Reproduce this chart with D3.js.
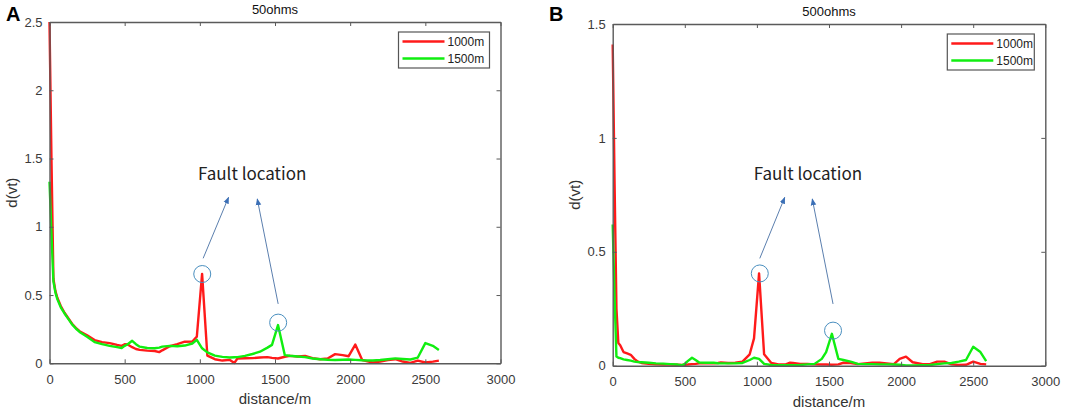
<!DOCTYPE html>
<html>
<head>
<meta charset="utf-8">
<script src="https://cdn.jsdelivr.net/npm/d3@7"></script>
<style>
  html, body { margin: 0; padding: 0; background: #fff; }
  svg { display: block; }
  text { font-family: "Liberation Sans", Arial, sans-serif; }
</style>
</head>
<body>
<svg id="chart" width="1065" height="411"></svg>
<script>
// ---------------- DATA ----------------
const distance = [0, 13, 26, 39, 52, 75, 100, 125, 150, 175, 200, 250, 300, 350, 400, 450, 480, 500, 520, 550,
  575, 600, 650, 700, 730, 750, 800, 850, 900, 950, 980, 1015, 1050, 1100, 1150, 1200, 1230, 1250, 1300, 1350,
  1400, 1450, 1480, 1520, 1565, 1600, 1650, 1700, 1750, 1800, 1850, 1900, 1950, 1990, 2034, 2080, 2150, 2200,
  2250, 2300, 2350, 2400, 2450, 2500, 2550, 2590];

// Panel A (50 ohms)
const redA = [2.5, 1.5, 0.62, 0.53, 0.48, 0.42, 0.37, 0.33, 0.29, 0.26, 0.235, 0.205, 0.17, 0.155, 0.148, 0.135, 0.128, 0.14, 0.138, 0.118,
  0.105, 0.098, 0.093, 0.09, 0.082, 0.095, 0.125, 0.14, 0.158, 0.16, 0.195, 0.655, 0.056, 0.03, 0.02, 0.025, 0.003, 0.035, 0.037, 0.038,
  0.042, 0.045, 0.04, 0.035, 0.048, 0.054, 0.05, 0.054, 0.038, 0.03, 0.035, 0.067, 0.06, 0.052, 0.137, 0.024, 0.006, 0.012,
  0.024, 0.03, 0.013, 0.003, 0.02, 0.006, 0.012, 0.02];
const greenA = [1.33, 0.95, 0.6, 0.52, 0.47, 0.41, 0.365, 0.325, 0.285, 0.255, 0.23, 0.195, 0.155, 0.14, 0.128, 0.118, 0.112, 0.128, 0.14, 0.165,
  0.14, 0.122, 0.112, 0.11, 0.115, 0.122, 0.128, 0.125, 0.13, 0.145, 0.172, 0.11, 0.08, 0.056, 0.047, 0.043, 0.044, 0.045, 0.054, 0.068,
  0.085, 0.115, 0.135, 0.28, 0.06, 0.055, 0.05, 0.045, 0.035, 0.03, 0.026, 0.024, 0.026, 0.028, 0.025, 0.022, 0.02, 0.024,
  0.03, 0.036, 0.032, 0.028, 0.042, 0.148, 0.128, 0.098];

// Panel B (500 ohms)
const redB = [1.41, 0.8, 0.25, 0.1, 0.09, 0.06, 0.054, 0.048, 0.03, 0.018, 0.012, 0.008, 0.006, 0.005, 0.005, 0.004, 0.003, 0.004, 0.005, 0.007,
  0.008, 0.01, 0.01, 0.01, 0.012, 0.014, 0.012, 0.013, 0.018, 0.05, 0.12, 0.405, 0.05, 0.012, 0.006, 0.006, 0.013, 0.012, 0.008, 0.008,
  0.006, 0.005, 0.005, 0.004, 0.006, 0.013, 0.012, 0.007, 0.01, 0.013, 0.013, 0.01, 0.007, 0.03, 0.04, 0.015, 0.007, 0.007,
  0.018, 0.018, 0.006, 0.003, 0.004, 0.018, 0.008, 0.006];
const greenB = [0.62, 0.3, 0.04, 0.035, 0.033, 0.028, 0.025, 0.022, 0.018, 0.016, 0.015, 0.013, 0.01, 0.009, 0.007, 0.005, 0.002, 0.008, 0.02, 0.035,
  0.025, 0.014, 0.013, 0.013, 0.011, 0.01, 0.01, 0.01, 0.012, 0.025, 0.035, 0.03, 0.008, 0.003, 0.002, 0.002, 0.002, 0.002, 0.003, 0.006,
  0.008, 0.03, 0.06, 0.14, 0.03, 0.025, 0.018, 0.008, 0.007, 0.007, 0.006, 0.006, 0.005, 0.004, 0.001, 0.001, 0.002, 0.003,
  0.007, 0.01, 0.012, 0.018, 0.025, 0.083, 0.06, 0.02];

const seriesNames = ["1000m", "1500m"];
const seriesColors = ["#ff1a1a", "#10ee10"];
const xTicks = [0, 500, 1000, 1500, 2000, 2500, 3000];
const yTicksA = [0, 0.5, 1, 1.5, 2, 2.5];
const yTicksB = [0, 0.5, 1, 1.5];
const titles = ["50ohms", "500ohms"];
const panelLabels = ["A", "B"];
const annotationText = "Fault location";
// annotation positions in data units: [circle1, circle2], arrows [from, to], text
const circlesA = [[1016, 0.654], [1521, 0.298]];
const arrowsA = [[[1022, 0.769], [1191, 1.216]], [[1521, 0.435], [1382, 1.204]]];
const textA = [1348, 1.387];
const circlesB = [[1020, 0.405], [1528, 0.154]];
const arrowsB = [[[1020, 0.471], [1193, 0.739]], [[1528, 0.271], [1384, 0.732]]];
const textB = [1354, 0.841];

// ---------------- DRAW ----------------
const svg = d3.select("#chart");
const defs = svg.append("defs");
defs.append("marker")
  .attr("id", "arrowhead")
  .attr("viewBox", "0 0 10 10")
  .attr("refX", 9).attr("refY", 5)
  .attr("markerWidth", 7).attr("markerHeight", 7)
  .attr("markerUnits", "userSpaceOnUse")
  .attr("orient", "auto")
  .append("path")
  .attr("d", "M0,1 L10,5 L0,9 Z")
  .attr("fill", "#3b6fb6");

function drawPanel(cfg) {
  const g = svg.append("g");
  const x = d3.scaleLinear().domain([0, 3000]).range([cfg.left, cfg.right]);
  const y = d3.scaleLinear().domain([0, cfg.ymax]).range([cfg.bottom, cfg.top]);
  const axisColor = "#5a5a5a";
  const tickLen = 4;

  // series
  const line = d3.line().x((d, i) => x(distance[i])).y(d => y(d));
  cfg.series.forEach((vals, k) => {
    g.append("path")
      .datum(vals)
      .attr("d", line)
      .attr("fill", "none")
      .attr("stroke", seriesColors[k])
      .attr("stroke-width", 2.4)
      .attr("stroke-linejoin", "round");
  });

  // axes (ticks inward)
  const xAxis = d3.axisBottom(x).tickValues(xTicks).tickSizeInner(-tickLen).tickSizeOuter(0).tickPadding(11)
    .tickFormat(d3.format("d"));
  const xAxisTop = d3.axisTop(x).tickValues(xTicks).tickSizeInner(-tickLen).tickSizeOuter(0).tickFormat("");
  const yAxis = d3.axisLeft(y).tickValues(cfg.yTicks).tickSizeInner(-tickLen).tickSizeOuter(0).tickPadding(7)
    .tickFormat(d => String(d));
  const yAxisRight = d3.axisRight(y).tickValues(cfg.yTicks).tickSizeInner(-tickLen).tickSizeOuter(0).tickFormat("");

  const styleAxis = sel => {
    sel.select(".domain").attr("stroke", axisColor).attr("stroke-width", 1.4);
    sel.selectAll(".tick line").attr("stroke", axisColor);
    sel.selectAll(".tick text").attr("fill", "#3a3a3a").style("font-size", "13px")
      .style("font-family", "'Liberation Sans', Arial, sans-serif");
  };
  g.append("g").attr("transform", `translate(0,${cfg.bottom})`).call(xAxis).call(styleAxis);
  g.append("g").attr("transform", `translate(0,${cfg.top})`).call(xAxisTop).call(styleAxis);
  g.append("g").attr("transform", `translate(${cfg.left},0)`).call(yAxis).call(styleAxis);
  g.append("g").attr("transform", `translate(${cfg.right},0)`).call(yAxisRight).call(styleAxis);

  // title
  g.append("text").attr("x", (cfg.left + cfg.right) / 2).attr("y", cfg.top - 8)
    .attr("text-anchor", "middle").style("font-size", "13px").attr("fill", "#111").text(cfg.title);
  // panel label
  g.append("text").attr("x", cfg.labelX).attr("y", cfg.labelY)
    .style("font-size", "20px").style("font-weight", "bold").attr("fill", "#000").text(cfg.label);
  // axis labels
  g.append("text").attr("x", (cfg.left + cfg.right) / 2).attr("y", cfg.bottom + 41)
    .attr("text-anchor", "middle").style("font-size", "15px").attr("fill", "#333").text("distance/m");
  g.append("text")
    .attr("transform", `translate(${cfg.yLabelX},${(cfg.top + cfg.bottom) / 2}) rotate(-90)`)
    .attr("text-anchor", "middle").style("font-size", "15px").attr("fill", "#333").text("d(vt)");

  // legend
  const lw = cfg.legendW, lh = 36;
  const lx = cfg.right - 11 - lw, ly = cfg.top + 10;
  const lg = g.append("g").attr("transform", `translate(${lx},${ly})`);
  lg.append("rect").attr("width", lw).attr("height", lh).attr("fill", "#fff")
    .attr("stroke", "#555").attr("stroke-width", 1.2);
  seriesNames.forEach((name, k) => {
    const yy = 9.5 + k * 17;
    lg.append("line").attr("x1", 4).attr("x2", 46).attr("y1", yy).attr("y2", yy)
      .attr("stroke", seriesColors[k]).attr("stroke-width", 2.4);
    lg.append("text").attr("x", 49).attr("y", yy + 4.5).style("font-size", "12px")
      .attr("fill", "#222").text(name);
  });

  // annotations
  cfg.circles.forEach(c => {
    g.append("circle").attr("cx", x(c[0])).attr("cy", y(c[1])).attr("r", 8.5)
      .attr("fill", "none").attr("stroke", "#4a8fbf").attr("stroke-width", 1);
  });
  cfg.arrows.forEach(a => {
    g.append("line").attr("x1", x(a[0][0])).attr("y1", y(a[0][1]))
      .attr("x2", x(a[1][0])).attr("y2", y(a[1][1]))
      .attr("stroke", "#5b7fae").attr("stroke-width", 1)
      .attr("marker-end", "url(#arrowhead)");
  });
  g.append("text").attr("x", x(cfg.text[0])).attr("y", y(cfg.text[1]) + 6)
    .attr("text-anchor", "middle")
    .style("font-family", "'Noto Sans CJK SC', 'Noto Sans', sans-serif")
    .style("font-size", "17px").attr("fill", "#222").text(annotationText);
}

drawPanel({
  left: 49.5, right: 500.5, top: 22, bottom: 363.3, ymax: 2.5, yTicks: yTicksA,
  series: [redA, greenA], title: titles[0], label: panelLabels[0], labelX: 6, labelY: 21,
  yLabelX: 17, legendW: 91, circles: circlesA, arrows: arrowsA, text: textA
});
drawPanel({
  left: 612.7, right: 1045.3, top: 24, bottom: 365.7, ymax: 1.5, yTicks: yTicksB,
  series: [redB, greenB], title: titles[1], label: panelLabels[1], labelX: 549, labelY: 21,
  yLabelX: 580, legendW: 87, circles: circlesB, arrows: arrowsB, text: textB
});
</script>
</body>
</html>
